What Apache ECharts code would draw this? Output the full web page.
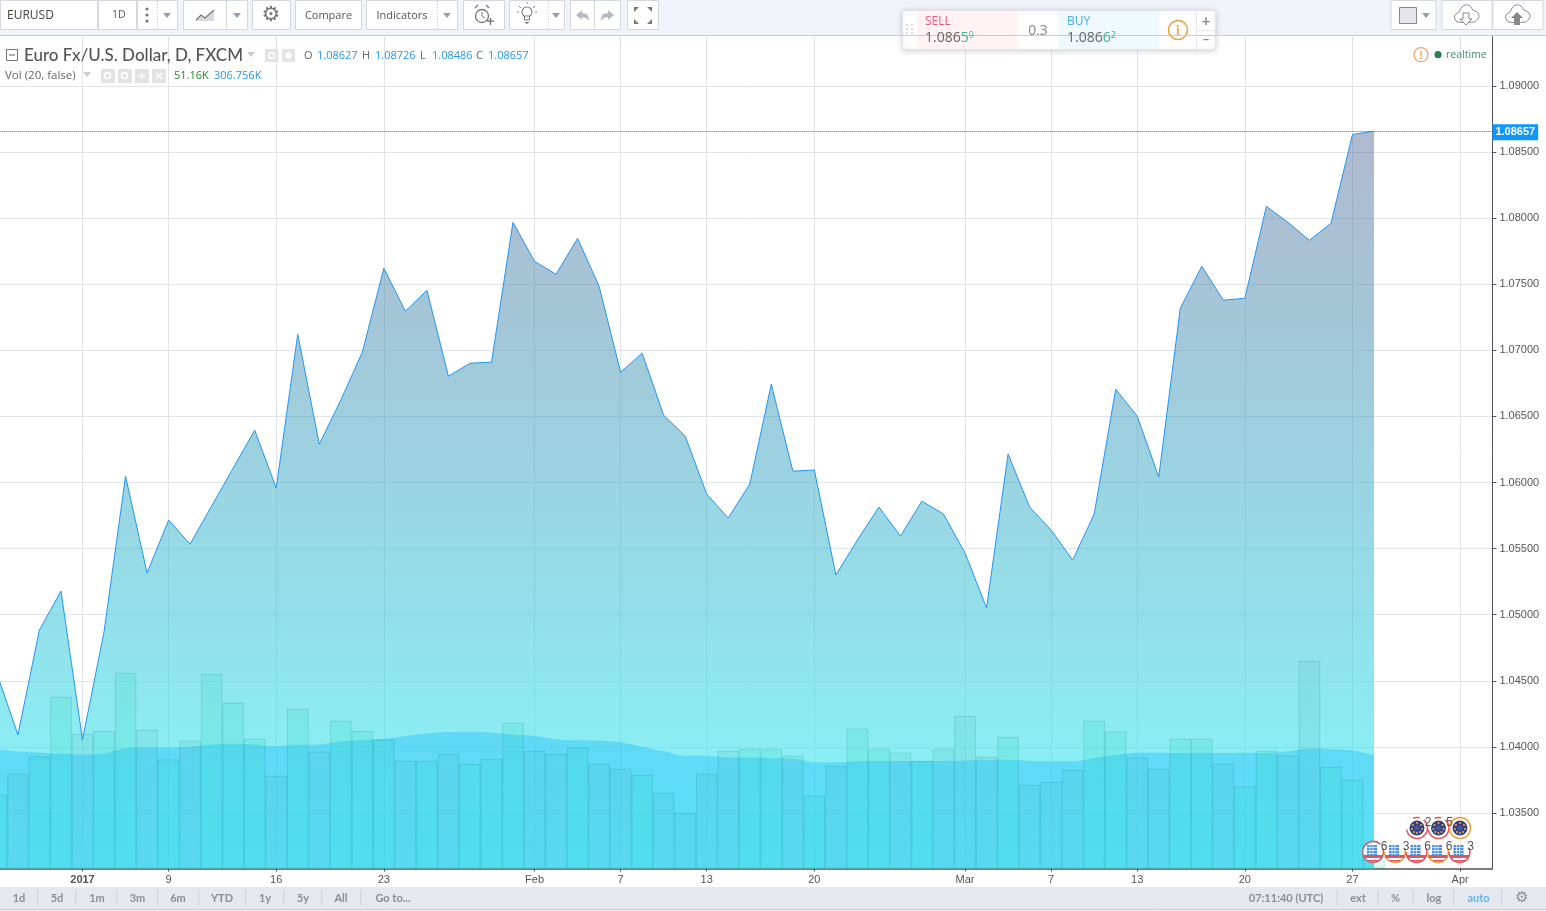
<!DOCTYPE html>
<html>
<head>
<meta charset="utf-8">
<style>html,body{margin:0;padding:0;background:#fff}#c{width:1546px;height:911px}</style>
<script src="https://cdn.jsdelivr.net/npm/echarts@6/dist/echarts.min.js"></script>
</head>
<body>
<div id="c"></div>
<script>
const categories = ['','','','','2017','','','','9','','','','','16','','','','','23','','','','','','','Feb','','','','7','','','','13','','','','','20','','','','','','','Mar','','','','7','','','','13','','','','','20','','','','','27','','','','','Apr',''];
const closePrice = [1.04567,1.04091,1.04884,1.05179,1.04053,1.04869,1.06048,1.05315,1.05716,1.05534,1.05822,1.06109,1.06396,1.05958,1.07122,1.06290,1.06623,1.06986,1.07621,1.07296,1.07454,1.06804,1.06902,1.06910,1.07968,1.07673,1.07575,1.07847,1.07484,1.06834,1.06978,1.06509,1.06351,1.05912,1.05731,1.05988,1.06744,1.06086,1.06094,1.05300,1.05565,1.05814,1.05595,1.05859,1.05761,1.05466,1.05051,1.06215,1.05814,1.05640,1.05413,1.05761,1.06706,1.06502,1.06041,1.07318,1.07636,1.07379,1.07394,1.08089,1.07968,1.07832,1.07961,1.08633,1.08657];
const volumeK = [197,253,299,458,359,367,522,370,291,341,519,442,346,247,426,312,394,367,344,287,287,306,279,293,389,314,306,322,279,266,250,202,149,253,314,319,319,301,194,274,373,319,309,287,319,407,298,351,223,231,263,394,365,296,266,346,346,279,219,314,301,554,271,237,51];
const volumeMaK = [317,312,309,306,304,307,321,323,323,325,331,333,331,326,330,331,339,343,346,353,360,364,365,363,357,354,345,342,341,337,325,313,301,301,296,296,294,293,283,283,286,287,287,287,287,288,290,290,287,286,286,295,303,309,309,308,309,308,309,308,312,321,319,315,303];
const priceTicks = [1.035,1.04,1.045,1.05,1.055,1.06,1.065,1.07,1.075,1.08,1.085,1.09];
const lastPrice = 1.08657;
const legendOHLC = [['O','1.08627'],['H','1.08726'],['L','1.08486'],['C','1.08657']];
const rangeButtons = ['1d','5d','1m','3m','6m','YTD','1y','5y','All','Go to...'];

const UI = 'Lato, "Open Sans", sans-serif';
const OS = '"Open Sans", sans-serif';
const AX = '"Liberation Sans", Arial, sans-serif';
const G = [];
const Z = 100;
function rect(x,y,w,h,fill,stroke,extra){G.push(Object.assign({type:'rect',silent:true,z:Z,shape:{x,y,width:w,height:h},style:{fill:fill||'transparent',stroke:stroke||null,lineWidth:1}},extra||{}));}
function txt(x,y,t,o){o=o||{};G.push({type:'text',silent:true,z:o.z||Z+3,x,y:y+0.8,style:{text:t,font:(o.w||'normal')+' '+(o.s||11)+'px '+(o.f||UI),fill:o.c||'#555',textAlign:o.a||'left',textVerticalAlign:'middle',rich:o.rich}});}
function line(x1,y1,x2,y2,c,w,dash){G.push({type:'line',silent:true,z:Z+2,shape:{x1,y1,x2,y2},style:{stroke:c,lineWidth:w||1,lineDash:dash||null}});}
function circ(x,y,r,fill,stroke,w,dash){G.push({type:'circle',silent:true,z:Z+1,shape:{cx:x,cy:y,r},style:{fill:fill||'transparent',stroke:stroke||null,lineWidth:w||1,lineDash:dash||null}});}
function dot(x,y,r,fill){G.push({type:'circle',silent:true,z:Z+2,shape:{cx:x,cy:y,r},style:{fill}});}
function poly(pts,fill){G.push({type:'polygon',silent:true,z:Z+1,shape:{points:pts},style:{fill}});}
function pline(pts,c,w){G.push({type:'polyline',silent:true,z:Z+1,shape:{points:pts},style:{stroke:c,fill:'transparent',lineWidth:w||1}});}
function arc(x,y,r,a,b,c,w){G.push({type:'arc',silent:true,z:Z+2,shape:{cx:x,cy:y,r,startAngle:a*Math.PI,endAngle:b*Math.PI,clockwise:true},style:{stroke:c,fill:'transparent',lineWidth:w||1}});}
function tri(x,y,c){poly([[x-4,y-2],[x+4,y-2],[x,y+3]],c||'#9a9da6');}
function cloud(x){const d=[[-8,22],[-11,19],[-11,15],[-7,12],[-5,8],[-1,5],[4,6],[7,10],[11,12],[13,16],[11,20],[8,22]];G.push({type:'polygon',silent:true,z:Z+1,shape:{points:d.map(p=>[x+p[0],p[1]]),smooth:0.4},style:{fill:'#fff',stroke:'#8a8c92',lineWidth:1}});}
function flagRect(x,y,w,h,c){rect(x,y,w,h,c,null,{z:Z+2});}

// top toolbar
rect(0,0,1546,36,'#f0f3f9');
line(0,35.5,1546,35.5,'#c9cbd3');
const B='#d5d7df';
[[0,98],[98,39],[137,41],[183,65],[252,39],[295,67],[366,92],[463,42],[509,56],[570,51],[627,32],[1390.5,46],[1441.5,51],[1492.5,51]].forEach(b=>rect(b[0]+.5,.5,b[1]-1,29,'#fff',B));
txt(7,15,'EURUSD',{s:12,c:'#444',f:OS});
txt(112,14.5,'1D',{s:10.5,c:'#555',f:OS});
[9,15,21].forEach(y=>circ(147,y,1.6,'#777'));
line(157.5,1,157.5,29,'#ccc',1,[1,2]);tri(167,15);
poly([[196,20],[201,15],[205,18],[214,10],[214,21],[196,21]],'#d8d9de');pline([[196,20],[201,15],[205,18],[214,10]],'#777',1.2);
line(226.5,1,226.5,29,B);tri(237,15);
txt(271,15,'⚙',{s:21,c:'#777',a:'center',f:'"DejaVu Sans"'});
txt(328.5,15,'Compare',{s:11,c:'#555',a:'center',f:OS});
txt(402,15,'Indicators',{s:11,c:'#555',a:'center',f:OS});
line(437.5,1,437.5,29,'#ccc',1,[1,2]);tri(447,15);
circ(482,16,6.5,null,'#777',1.3);pline([[482,12],[482,16],[485,18]],'#777',1);line(475,8,478,5,'#777',1.2);line(489,8,486,5,'#777',1.2);line(487,21,494,21,'#777',1.4);line(490.5,18,490.5,25,'#777',1.4);
circ(527,12,5,'#fff','#777',1.1);rect(524.5,16,5,4,'#fff','#777',{z:Z+2});poly([[524.5,22],[529.5,22],[527,24]],'#777');
line(517,12,519,12,'#888');line(535,12,537,12,'#888');line(519,6,521,8,'#888');line(535,6,533,8,'#888');line(527,2,527,4,'#888');
line(548.5,1,548.5,29,'#ccc',1,[1,2]);tri(556,15);
poly([[576,15],[582,10],[582,13],[587,14],[590,21],[586,18],[582,17],[582,20]],'#b9bbc2');
line(594.5,1,594.5,29,B);
poly([[614,15],[608,10],[608,13],[603,14],[600,21],[604,18],[608,17],[608,20]],'#b9bbc2');
[[[634,7],[639,7],[634,12]],[[652,7],[647,7],[652,12]],[[634,24],[639,24],[634,19]],[[652,24],[647,24],[652,19]]].forEach(t=>poly(t,'#777'));
rect(1399.5,7.5,17,16,'#e6e6e8','#888',{z:Z+1});tri(1426,15);
cloud(1466);G.push({type:'polygon',silent:true,z:Z+2,shape:{points:[[1463,13],[1469,13],[1469,19],[1472,19],[1466,25],[1460,19],[1463,19]]},style:{fill:'#fff',stroke:'#888',lineWidth:1}});
cloud(1517);G.push({type:'polygon',silent:true,z:Z+2,shape:{points:[[1514,25],[1520,25],[1520,18],[1523,18],[1517,12],[1511,18],[1514,18]]},style:{fill:'#888'}});

// trading widget
rect(902.5,10.5,313,39,'#fff','#e3e4e8',{shape:{x:902.5,y:10.5,width:313,height:39,r:3},style:{fill:'#fff',stroke:'#e3e4e8',shadowBlur:6,shadowColor:'rgba(0,0,0,.18)',shadowOffsetY:1}});
rect(917.5,11,99.5,38,'#fff3f5',null,{z:Z+1});rect(1059,11,100.5,38,'#f0f9fd',null,{z:Z+1});
[[906,26],[911,26],[906,30],[911,30],[906,34],[911,34]].forEach(p=>rect(p[0],p[1]-2,2,2,'#dadbe0',null,{z:Z+1}));
txt(925,21,'SELL',{s:12,c:'#ef5a78',f:OS});
const priceRich={a:{font:'14px '+OS,fill:'#666'},g:{font:'14px '+OS,fill:'#3fb38f'},u:{font:'9px '+OS,fill:'#3fb38f',padding:[0,0,6,0]}};
txt(925,37.5,'{a|1.086}{g|5}{u|9}',{rich:priceRich});
txt(1038,30,'0.3',{s:14,c:'#888',a:'center',f:OS});
txt(1067,21,'BUY',{s:12,c:'#45aee0',f:OS});
txt(1067,37.5,'{a|1.086}{g|6}{u|2}',{rich:priceRich});
circ(1178,30,9.5,'#fff','#e8a33d',1.6);txt(1178,30,'i',{s:13,c:'#e8a33d',a:'center',w:'bold'});
line(1196.5,11,1196.5,49,'#e6e7ea');line(1197,30.5,1215,30.5,'#e6e7ea');
txt(1206,20.5,'+',{s:15,c:'#888',a:'center',w:'bold'});txt(1206,39.5,'–',{s:13,c:'#888',a:'center',w:'bold'});

// legend
rect(6.5,49.5,11,11,'#fff','#777',{z:Z+1});line(9,55,15,55,'#666');
txt(24,55,'Euro Fx/U.S. Dollar, D, FXCM',{s:17,c:'#555',w:'500'});
tri(251,54,'#ccc');
[[265,49,13],[282,49,13],[101,69,14],[118,69,14],[135,69,14],[152,69,14]].forEach(q=>rect(q[0],q[1],q[2],q[2],'#e3e3e5'));
[[271.5,55.5],[107.5,75.5],[124.5,75.5]].forEach(q=>circ(q[0],q[1],3,null,'#fff',1.4));
circ(288.5,55.5,3.2,'#fff');txt(142,75.5,'+',{s:13,c:'#fff',a:'center',w:'bold'});txt(159,75,'×',{s:15,c:'#fff',a:'center'});
const lx=[[304,317],[362,375],[420,432],[476,488]];
legendOHLC.forEach((p,i)=>{txt(lx[i][0],55,p[0],{s:11,c:'#666',f:OS});txt(lx[i][1],55,p[1],{s:11,c:'#2196f3',f:OS});});
txt(5,75,'Vol (20, false)',{s:11.5,c:'#666',f:OS});tri(87,74,'#ccc');
txt(174,75.5,'51.16K',{s:11,c:'#1e8c2d',f:OS});txt(214,75.5,'306.756K',{s:11,c:'#2196f3',f:OS});
circ(1421,54.7,7,'#fff','#f2a66b',1.3);txt(1421,54.7,'!',{s:11,c:'#ee9552',a:'center',w:'bold'});
circ(1438,54.7,3.6,'#2f7d54');txt(1446,54.5,'realtime',{s:10.5,c:'#3f8f6a',f:OS});

// bottom bar
rect(0,887,1546,22,'#e5e8ee');line(0,909.5,1546,909.5,'#c9cbd1');rect(0,910,1546,1,'#f2f3f6');
const rx=[19,57,97,137.5,178,222,265,303,341,393];
rangeButtons.forEach((t,i)=>txt(rx[i],897.5,t,{s:11,c:'#8b8e96',a:'center',w:'bold'}));
[37.7,75.7,116.7,157.7,198.7,245.7,283.7,321.7,360.7,1337,1378,1413,1453.7,1501.7].forEach(x=>line(x,890,x,905,'#cfd1d8'));
txt(1286,897.5,'07:11:40 (UTC)',{s:11,c:'#8b8e96',a:'center',w:'bold'});
txt(1358,897.5,'ext',{s:11,c:'#8b8e96',a:'center',w:'bold'});
txt(1395.5,897.5,'%',{s:11,c:'#8b8e96',a:'center',w:'bold'});
txt(1434,897.5,'log',{s:11,c:'#8b8e96',a:'center',w:'bold'});
txt(1478.5,897.5,'auto',{s:11,c:'#63b5ea',a:'center',w:'bold'});
txt(1522,897.5,'⚙',{s:15,c:'#8b8e96',a:'center',f:'"DejaVu Sans"'});

// event flags
function euFlag(x,y,ring,n,full){
  circ(x,y,10.5,'rgba(255,255,255,.9)');
  if(full){arc(x,y,10.5,0,2,ring,1.5);}else{arc(x,y,10.5,-0.28,0.95,ring,1.5);arc(x,y,10.5,-0.62,-0.42,ring,1.5);}
  dot(x,y,7.5,'#35407f');
  [[0,-5],[4,-3],[5,1],[3,4],[-3,4],[-5,1],[-4,-3],[0,5]].forEach(d=>G.push({type:'circle',silent:true,z:Z+3,shape:{cx:x+d[0],cy:y+d[1],r:1},style:{fill:'#e6b54a'}}));
  G.push({type:'circle',silent:true,z:Z+3,shape:{cx:x,cy:y,r:2.5},style:{fill:'#4a55a0'}});
  if(n)txt(x+11,y-6.5,n,{s:12,c:'#555',a:'center',f:AX});
}
function usFlag(x,y,ring,n,end){
  circ(x,y,10.5,'rgba(255,255,255,.8)');
  arc(x,y,10.5,-0.12,end,ring,1.5);
  flagRect(x-6,y-7,10,10,'#4b8fe0');
  [-4.5,-1.5,1.5].forEach(d=>line(x-6,y+d,x+4,y+d,'#fff',.7));
  [-3,0].forEach(d=>line(x+d,y-7,x+d,y+3,'#fff',.7));
  flagRect(x-9.5,y+3,19,3,'#e0545f');flagRect(x-5,y+8,10,1.5,'#e0545f');
  if(n)txt(x+11,y-6.5,n,{s:12,c:'#555',a:'center',f:AX});
}
euFlag(1417,828,'#e2535f','2',false);euFlag(1438.5,828,'#e2535f','5',false);euFlag(1460,828,'#e9a13c','',true);
[[1373,'#b96a7a','6',1.75],[1395,'#e9a13c','3',1.0],[1416.5,'#e2535f','6',1.0],[1438,'#e9a13c','6',1.0],[1459.5,'#e2535f','3',1.0]].forEach(f=>usFlag(f[0],852,f[1],f[2],f[3]));

const UP='rgba(20,215,170,0.15)', DOWN='rgba(60,160,165,0.11)';
const chart = echarts.init(document.getElementById('c'));
chart.setOption({
  animation:false,
  backgroundColor:'#fff',
  grid:{left:-14.36,right:53.6,top:36.5,bottom:42.5,containLabel:false,outerBoundsMode:'none'},
  xAxis:{type:'category',data:categories,boundaryGap:true,
    axisLine:{lineStyle:{color:'#50535e',width:1.5}},
    axisTick:{show:true,alignWithLabel:true,length:3,lineStyle:{color:'#50535e'},interval:(i,v)=>v!==''},
    splitLine:{show:true,alignWithLabel:true,interval:(i,v)=>v!=='',lineStyle:{color:'#e0e3e8',width:1}},
    axisLabel:{interval:(i,v)=>v!=='',margin:6,fontFamily:AX,fontSize:11,color:'#555',
      formatter:v=>v==='2017'?'{b|2017}':v,rich:{b:{fontWeight:'bold',fontFamily:AX,fontSize:11,color:'#555'}}}},
  yAxis:[
    {type:'value',position:'right',min:1.03080,max:1.09374,scale:true,
     axisLine:{show:true,lineStyle:{color:'#50535e',width:1}},
     axisTick:{show:true,length:4,lineStyle:{color:'#50535e'},customValues:priceTicks},
     axisLabel:{customValues:priceTicks,margin:7,padding:[6,0,0,0],fontFamily:AX,fontSize:11,color:'#555',formatter:v=>v.toFixed(5)},
     splitLine:{show:true,lineStyle:{color:'#e0e3e8',width:1}}},
    {type:'value',min:0,max:2219,show:false,splitLine:{show:false}}
  ],
  graphic:{elements:G},
  series:[
    {type:'line',name:'Euro Fx/U.S. Dollar',data:closePrice,yAxisIndex:0,showSymbol:false,z:2,
     lineStyle:{color:'#2196f3',width:1},
     areaStyle:{origin:'start',opacity:1,color:{type:'linear',x:0,y:0,x2:0,y2:1,colorStops:[{offset:0,color:'rgba(101,121,162,0.52)'},{offset:1,color:'rgba(64,247,250,0.65)'}]}},
     markLine:{silent:true,symbol:'none',animation:false,precision:5,
       lineStyle:{color:'#0088c8',type:[1,1],width:1.2},
       label:{position:'end',distance:0,offset:[0,1],formatter:p=>p.value.toFixed(5),backgroundColor:'#0f96ff',color:'#fff',fontWeight:'bold',fontFamily:AX,fontSize:11,padding:[3,3,2,3]},
       data:[{yAxis:lastPrice}]}},
    {type:'line',name:'Vol MA',data:volumeMaK,yAxisIndex:1,showSymbol:false,smooth:0.3,z:3,
     lineStyle:{width:0},areaStyle:{origin:'start',opacity:1,color:'rgba(38,190,250,0.42)'}},
    {type:'bar',name:'Volume',yAxisIndex:1,barWidth:'100%',z:4,
     data:volumeK.map((v,i)=>({value:v,itemStyle:{color:(i===0||closePrice[i]>=closePrice[i-1])?UP:DOWN,borderColor:'rgba(0,140,150,0.2)',borderWidth:1}}))}
  ]
});
</script>
</body>
</html>
